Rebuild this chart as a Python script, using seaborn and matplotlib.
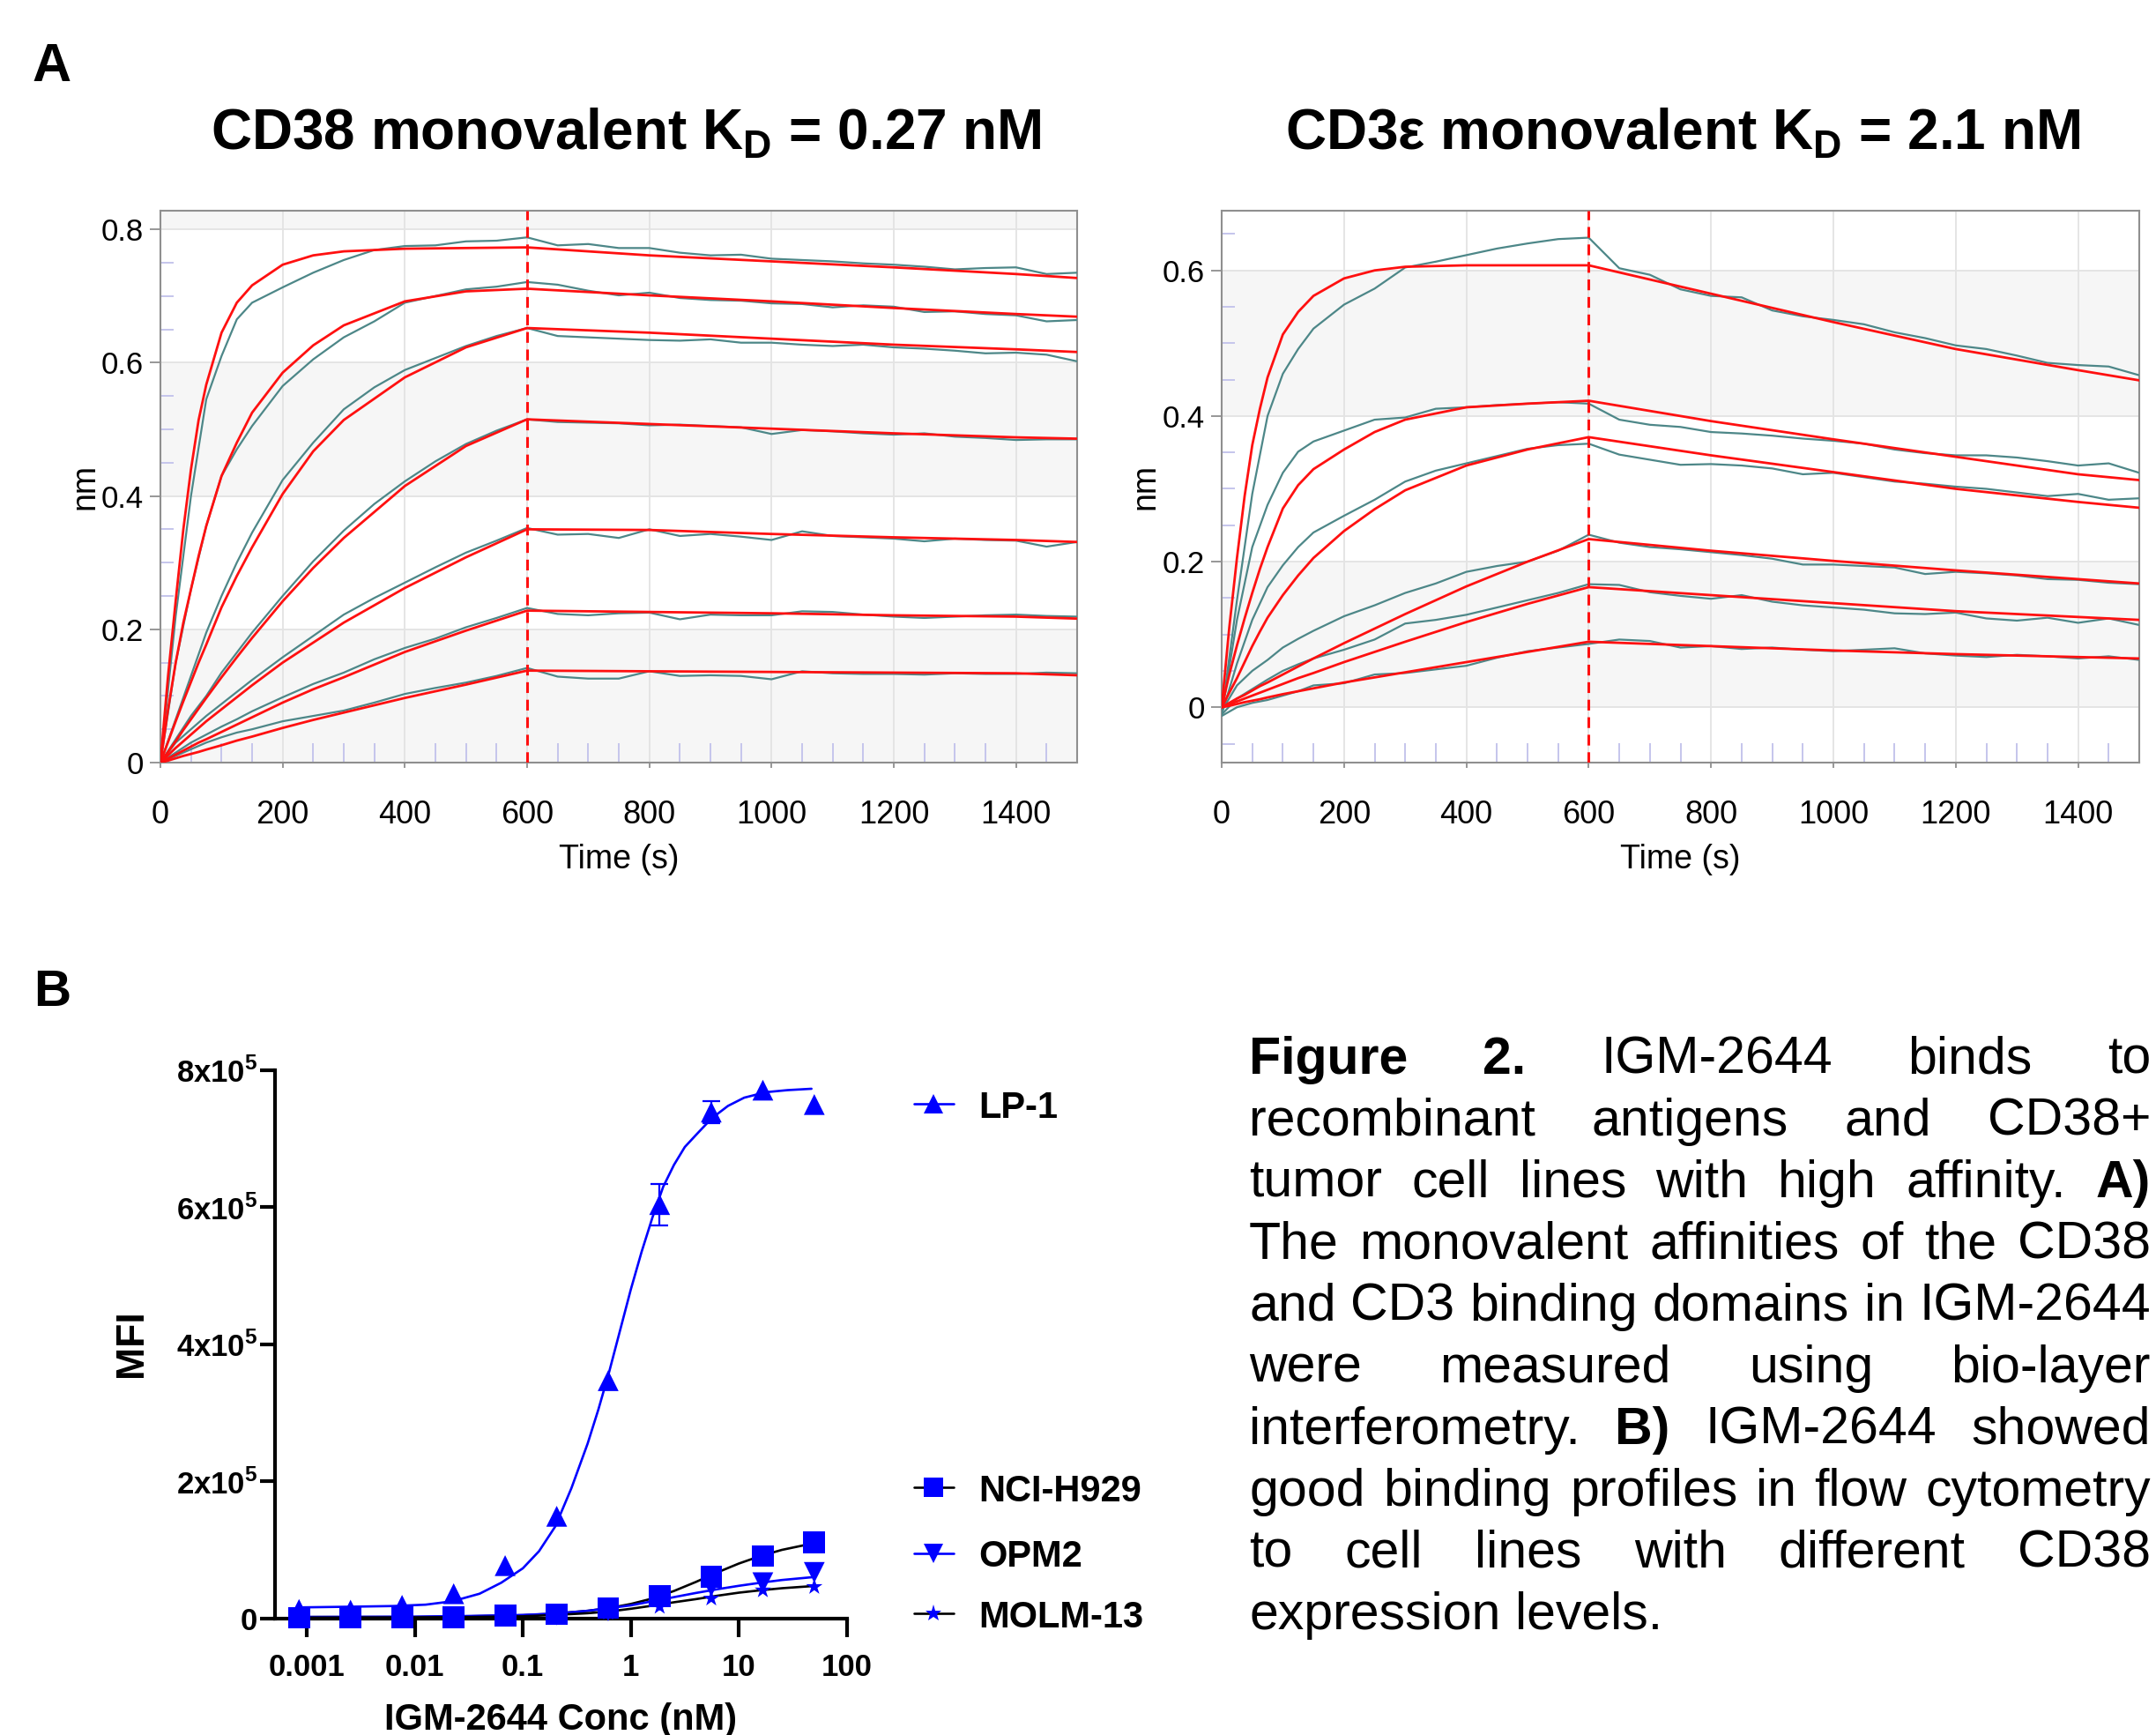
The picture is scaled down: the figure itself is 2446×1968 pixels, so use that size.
import numpy as np
import seaborn as sns
import matplotlib.pyplot as plt
import matplotlib.font_manager as fm
from matplotlib.ticker import MultipleLocator, NullLocator
from matplotlib.lines import Line2D

# ---------------- data ----------------
# BLI sensorgrams: time grids (s)
t_raw = [0, 25, 50, 75, 100, 125, 150, 200, 250, 300, 350, 400, 450, 500, 550, 600,
         650, 700, 750, 800, 850, 900, 950, 1000, 1050, 1100, 1150, 1200, 1250, 1300,
         1350, 1400, 1450, 1500]
t_fit = [0, 12.5, 25, 37.5, 50, 62.5, 75, 100, 125, 150, 200, 250, 300, 400, 500, 600,
         800, 1000, 1200, 1400, 1500]

# CD38 panel: measured traces (nm), highest to lowest concentration
cd38_raw = [
    [0, 0.22, 0.40, 0.545, 0.61, 0.665, 0.69, 0.713, 0.735, 0.754, 0.769, 0.775, 0.776, 0.782, 0.783, 0.788,
     0.776, 0.778, 0.772, 0.772, 0.765, 0.761, 0.762, 0.756, 0.754, 0.752, 0.749, 0.747, 0.744, 0.740, 0.742, 0.743, 0.733, 0.735],
    [0, 0.15, 0.26, 0.355, 0.43, 0.47, 0.505, 0.565, 0.605, 0.638, 0.662, 0.69, 0.70, 0.71, 0.714, 0.721,
     0.717, 0.708, 0.701, 0.705, 0.697, 0.694, 0.693, 0.689, 0.688, 0.683, 0.686, 0.684, 0.676, 0.677, 0.673, 0.671, 0.662, 0.664],
    [0, 0.065, 0.13, 0.195, 0.25, 0.30, 0.345, 0.424, 0.48, 0.53, 0.563, 0.589, 0.607, 0.625, 0.64, 0.652,
     0.64, 0.638, 0.636, 0.634, 0.633, 0.635, 0.630, 0.630, 0.627, 0.625, 0.627, 0.623, 0.621, 0.618, 0.614, 0.615, 0.612, 0.602],
    [0, 0.035, 0.07, 0.10, 0.135, 0.165, 0.195, 0.25, 0.302, 0.348, 0.388, 0.422, 0.452, 0.478, 0.498, 0.515,
     0.511, 0.51, 0.509, 0.506, 0.507, 0.505, 0.503, 0.493, 0.499, 0.497, 0.494, 0.492, 0.494, 0.489, 0.487, 0.484, 0.485, 0.485],
    [0, 0.03, 0.05, 0.07, 0.088, 0.106, 0.124, 0.158, 0.19, 0.222, 0.247, 0.27, 0.293, 0.315, 0.333, 0.352,
     0.342, 0.343, 0.337, 0.35, 0.34, 0.343, 0.339, 0.334, 0.347, 0.34, 0.338, 0.336, 0.332, 0.336, 0.334, 0.333, 0.324, 0.331],
    [0, 0.015, 0.03, 0.042, 0.054, 0.065, 0.077, 0.098, 0.118, 0.135, 0.155, 0.172, 0.186, 0.203, 0.217, 0.232,
     0.223, 0.221, 0.224, 0.225, 0.215, 0.222, 0.221, 0.221, 0.227, 0.226, 0.222, 0.219, 0.217, 0.219, 0.221, 0.222, 0.22, 0.219],
    [0, 0.01, 0.02, 0.03, 0.038, 0.045, 0.05, 0.062, 0.07, 0.078, 0.09, 0.103, 0.112, 0.12, 0.13, 0.142,
     0.129, 0.126, 0.126, 0.137, 0.13, 0.131, 0.13, 0.125, 0.137, 0.134, 0.133, 0.133, 0.132, 0.134, 0.133, 0.133, 0.135, 0.134],
]
# CD38 panel: 1:1 fits (nm)
cd38_fit = [
    [0, 0.13, 0.243, 0.35, 0.44, 0.514, 0.567, 0.645, 0.69, 0.716, 0.747, 0.761, 0.767, 0.771, 0.772, 0.773, 0.761, 0.752, 0.743, 0.733, 0.727],
    [0, 0.08, 0.15, 0.21, 0.26, 0.31, 0.355, 0.43, 0.48, 0.525, 0.585, 0.626, 0.656, 0.692, 0.707, 0.711, 0.701, 0.692, 0.682, 0.673, 0.669],
    [0, 0.031, 0.062, 0.092, 0.121, 0.15, 0.177, 0.233, 0.28, 0.323, 0.403, 0.467, 0.514, 0.578, 0.623, 0.652, 0.645, 0.636, 0.627, 0.620, 0.616],
    [0, 0.016, 0.032, 0.049, 0.065, 0.081, 0.097, 0.128, 0.158, 0.187, 0.242, 0.292, 0.337, 0.415, 0.475, 0.515, 0.508, 0.501, 0.494, 0.488, 0.486],
    [0, 0.011, 0.022, 0.032, 0.042, 0.052, 0.062, 0.08, 0.098, 0.116, 0.15, 0.18, 0.21, 0.262, 0.308, 0.35, 0.349, 0.343, 0.338, 0.334, 0.331],
    [0, 0.006, 0.012, 0.018, 0.024, 0.03, 0.035, 0.046, 0.057, 0.068, 0.09, 0.11, 0.128, 0.166, 0.198, 0.228, 0.226, 0.224, 0.221, 0.219, 0.216],
    [0, 0.003, 0.0065, 0.01, 0.013, 0.016, 0.0195, 0.026, 0.033, 0.039, 0.052, 0.064, 0.075, 0.097, 0.117, 0.138, 0.137, 0.136, 0.135, 0.134, 0.131],
]
# CD3e panel: measured traces (nm)
cd3_raw = [
    [-0.01, 0.147, 0.293, 0.40, 0.458, 0.492, 0.52, 0.553, 0.575, 0.604, 0.612, 0.621, 0.63, 0.637, 0.643, 0.645,
     0.603, 0.594, 0.574, 0.565, 0.563, 0.545, 0.537, 0.532, 0.526, 0.515, 0.507, 0.497, 0.492, 0.483, 0.473, 0.47, 0.468, 0.456],
    [-0.01, 0.12, 0.22, 0.278, 0.322, 0.351, 0.365, 0.38, 0.395, 0.398, 0.41, 0.412, 0.415, 0.417, 0.419, 0.417,
     0.395, 0.388, 0.385, 0.378, 0.376, 0.373, 0.369, 0.366, 0.362, 0.354, 0.349, 0.346, 0.346, 0.343, 0.338, 0.332, 0.335, 0.322],
    [-0.01, 0.06, 0.12, 0.165, 0.195, 0.22, 0.24, 0.263, 0.285, 0.31, 0.325, 0.335, 0.345, 0.355, 0.36, 0.362,
     0.347, 0.34, 0.333, 0.334, 0.332, 0.328, 0.32, 0.322, 0.316, 0.31, 0.307, 0.303, 0.3, 0.295, 0.29, 0.293, 0.285, 0.287],
    [-0.005, 0.03, 0.05, 0.065, 0.082, 0.094, 0.105, 0.125, 0.14, 0.157, 0.17, 0.186, 0.194, 0.2, 0.215, 0.237,
     0.226, 0.22, 0.217, 0.213, 0.209, 0.204, 0.196, 0.196, 0.194, 0.192, 0.183, 0.186, 0.184, 0.181, 0.176, 0.175, 0.171, 0.169],
    [-0.01, 0.012, 0.025, 0.038, 0.05, 0.059, 0.067, 0.079, 0.093, 0.115, 0.12, 0.127, 0.137, 0.147, 0.157, 0.169,
     0.168, 0.158, 0.153, 0.149, 0.154, 0.145, 0.14, 0.137, 0.134, 0.129, 0.128, 0.13, 0.122, 0.119, 0.123, 0.116, 0.122, 0.113],
    [-0.012, 0.0, 0.006, 0.01, 0.016, 0.022, 0.03, 0.033, 0.045, 0.047, 0.052, 0.057, 0.068, 0.077, 0.082, 0.087,
     0.093, 0.091, 0.082, 0.084, 0.08, 0.082, 0.079, 0.077, 0.079, 0.081, 0.074, 0.071, 0.069, 0.072, 0.07, 0.067, 0.07, 0.065],
]
# CD3e panel: 1:1 fits (nm)
cd3_fit = [
    [0, 0.11, 0.205, 0.29, 0.36, 0.41, 0.453, 0.512, 0.543, 0.565, 0.589, 0.6, 0.605, 0.607, 0.607, 0.607, 0.568, 0.529, 0.492, 0.463, 0.449],
    [0, 0.045, 0.085, 0.122, 0.157, 0.19, 0.22, 0.273, 0.305, 0.327, 0.354, 0.378, 0.395, 0.412, 0.417, 0.421, 0.393, 0.368, 0.344, 0.32, 0.312],
    [0, 0.02, 0.04, 0.062, 0.084, 0.104, 0.123, 0.154, 0.181, 0.205, 0.242, 0.272, 0.298, 0.332, 0.354, 0.371, 0.346, 0.323, 0.3, 0.282, 0.274],
    [0, 0.006, 0.012, 0.017, 0.023, 0.029, 0.034, 0.045, 0.056, 0.067, 0.088, 0.108, 0.128, 0.166, 0.2, 0.231, 0.215, 0.201, 0.188, 0.176, 0.17],
    [0, 0.004, 0.008, 0.012, 0.016, 0.02, 0.024, 0.032, 0.04, 0.047, 0.062, 0.076, 0.09, 0.117, 0.142, 0.165, 0.154, 0.143, 0.132, 0.124, 0.12],
    [0, 0.002, 0.0045, 0.007, 0.009, 0.011, 0.0135, 0.018, 0.022, 0.026, 0.034, 0.041, 0.048, 0.062, 0.076, 0.09, 0.084, 0.078, 0.073, 0.069, 0.067],
]

# Flow binding: concentrations (nM) and MFI
conc = [0.000847, 0.00254, 0.00762, 0.0229, 0.0686, 0.206, 0.617, 1.85, 5.56, 16.7, 50]
lp1 = [1.3e4, 1.2e4, 1.9e4, 3.6e4, 7.7e4, 1.49e5, 3.47e5, 6.04e5, 7.39e5, 7.71e5, 7.50e5]
lp1_err = [0, 0, 0, 0, 0, 0, 0, 3.0e4, 1.6e4, 0, 0]
nci_h929 = [1e3, 1e3, 1.5e3, 2e3, 4e3, 6e3, 1.5e4, 3.2e4, 6.1e4, 9.1e4, 1.11e5]
opm2 = [1e3, 1e3, 1e3, 1.5e3, 3e3, 5e3, 1.1e4, 2.6e4, 4.7e4, 5.2e4, 6.7e4]
molm13 = [5e2, 5e2, 1e3, 1e3, 2e3, 4e3, 8e3, 1.7e4, 2.9e4, 4.1e4, 4.6e4]

# fitted curves (log10 nM -> MFI)
lp1_fit_logc = [-3.065, -2.6, -2.2, -1.9, -1.65, -1.4, -1.2, -1.0, -0.85, -0.7, -0.55, -0.4, -0.3, -0.2,
                -0.1, 0.0, 0.1, 0.2, 0.3, 0.4, 0.5, 0.6, 0.75, 0.9, 1.05, 1.25, 1.45, 1.673]
lp1_fit = [1.6e4, 1.7e4, 1.8e4, 2.0e4, 2.5e4, 3.6e4, 5.2e4, 7.3e4, 9.8e4, 1.34e5, 1.9e5, 2.55e5, 3.05e5, 3.6e5,
           4.2e5, 4.8e5, 5.35e5, 5.85e5, 6.3e5, 6.62e5, 6.88e5, 7.05e5, 7.3e5, 7.48e5, 7.6e5, 7.68e5, 7.71e5, 7.73e5]
low_fit_logc = [-3.065, -2.0, -1.5, -1.0, -0.7, -0.4, -0.2, 0.0, 0.2, 0.4, 0.6, 0.8, 1.0, 1.2, 1.4, 1.673]
nci_fit = [2e3, 2e3, 3e3, 4.5e3, 7e3, 1.1e4, 1.5e4, 2.1e4, 2.9e4, 4.0e4, 5.3e4, 6.7e4, 8.0e4, 9.1e4, 1.0e5, 1.09e5]
opm2_fit = [2e3, 2.5e3, 3.5e3, 5e3, 7e3, 1.1e4, 1.5e4, 1.9e4, 2.5e4, 3.1e4, 3.7e4, 4.25e4, 4.75e4, 5.2e4, 5.6e4, 6.0e4]
molm13_fit = [1e3, 1.5e3, 2e3, 3e3, 5e3, 7.5e3, 1.0e4, 1.4e4, 1.85e4, 2.35e4, 2.8e4, 3.3e4, 3.75e4, 4.1e4, 4.4e4, 4.7e4]

caption = [
    "**Figure** **2.** IGM-2644 binds to",
    "recombinant antigens and CD38+",
    "tumor cell lines with high affinity. **A)**",
    "The monovalent affinities of the CD38",
    "and CD3 binding domains in IGM-2644",
    "were measured using bio-layer",
    "interferometry. **B)** IGM-2644 showed",
    "good binding profiles in flow cytometry",
    "to cell lines with different CD38",
    "expression levels.",
]

# ---------------- style ----------------
sns.set_theme(style='white')
plt.rcParams['font.family'] = ['Liberation Sans', 'DejaVu Sans']
plt.rcParams['text.color'] = 'black'
plt.rcParams['mathtext.fontset'] = 'custom'
plt.rcParams['mathtext.rm'] = 'Liberation Sans'
plt.rcParams['mathtext.bf'] = 'Liberation Sans:bold'
names = {f.name for f in fm.fontManager.ttflist}
NARROW = 'Liberation Sans Narrow' if 'Liberation Sans Narrow' in names else 'Liberation Sans'

W, H = 2446, 1968
fig = plt.figure(figsize=(W / 100, H / 100), dpi=100)
fig.patch.set_facecolor('white')


def fx(px):
    return px / W


def fy(py):
    return 1 - py / H


TEAL = '#4d8788'
LAV = '#c5c5ec'


def bli_panel(x0, x1, ylim, raw, fit, yticks):
    ax = fig.add_axes([fx(x0), fy(865), fx(x1 - x0), (865 - 239) / H])
    ax.set_xlim(0, 1500)
    ax.set_ylim(*ylim)
    for lo, hi in [(0, 0.2), (0.4, 0.6), (0.8, 1.0)]:
        ax.axhspan(lo, hi, color='#f6f6f6', lw=0, zorder=0)
    ax.set_axisbelow(True)
    ax.xaxis.set_major_locator(MultipleLocator(200))
    ax.xaxis.set_minor_locator(MultipleLocator(50))
    ax.set_yticks(yticks, labels=[('%g' % v) for v in yticks])
    ax.yaxis.set_minor_locator(MultipleLocator(0.05))
    ax.grid(True, which='major', color='#e3e3e3', lw=1.3)
    for vals in raw:
        sns.lineplot(x=t_raw, y=vals, ax=ax, color=TEAL, lw=1.6, estimator=None, zorder=3)
    for vals in fit:
        sns.lineplot(x=t_fit, y=vals, ax=ax, color='#ff1010', lw=2.0, estimator=None, zorder=4)
    ax.axvline(600, color='#ff1010', lw=2.2, ls=(0, (4, 2.5)), zorder=5)
    for s in ax.spines.values():
        s.set_color('#8f8f8f')
        s.set_linewidth(1.5)
    ax.tick_params(axis='y', which='major', direction='out', length=8.5, width=1.3, color='#8f8f8f',
                   labelsize=25, pad=5, labelcolor='black', labelfontfamily=NARROW, left=True)
    ax.tick_params(axis='x', which='major', direction='out', length=4, width=1.3, color='#8f8f8f',
                   labelsize=26, pad=26, labelcolor='black', labelfontfamily=NARROW, bottom=True)
    ax.tick_params(axis='y', which='minor', direction='in', length=11, width=1.4, color=LAV, left=True)
    ax.tick_params(axis='x', which='minor', direction='in', length=16, width=1.4, color=LAV, bottom=True)
    ax.set_xlabel('')
    ax.set_ylabel('')
    fig.text(fx((x0 + x1) / 2), fy(985), 'Time (s)', ha='center', va='baseline', fontsize=27,
             family=NARROW)
    return ax


axL = bli_panel(182, 1222, (0, 0.828), cd38_raw, cd38_fit, [0, 0.2, 0.4, 0.6, 0.8])
axR = bli_panel(1386, 2427, (-0.076, 0.682), cd3_raw, cd3_fit, [0, 0.2, 0.4, 0.6])
fig.text(fx(96), fy(552), 'nm', rotation=90, ha='center', va='center', fontsize=27, family=NARROW)
fig.text(fx(1299), fy(552), 'nm', rotation=90, ha='center', va='center', fontsize=27, family=NARROW)

fig.text(fx(710), fy(169), r'CD38 monovalent K$_\mathbf{D}$ = 0.27 nM', ha='center', va='baseline',
         fontsize=46, fontweight='bold')
fig.text(fx(1909), fy(169), r'CD3ε monovalent K$_\mathbf{D}$ = 2.1 nM', ha='center', va='baseline',
         fontsize=46, fontweight='bold')
fig.text(fx(36), fy(92), 'A', ha='left', va='baseline', fontsize=44, fontweight='bold')
fig.text(fx(38), fy(1141), 'B', ha='left', va='baseline', fontsize=42, fontweight='bold')

# ---------------- panel B ----------------
axB = fig.add_axes([fx(311.7), fy(1835.7), fx(960.7 - 311.7), (1835.7 - 1214) / H])
axB.set_xscale('log')
axB.set_xlim(10 ** -3.297, 100)
axB.set_ylim(0, 8e5)

sns.lineplot(x=10 ** np.array(lp1_fit_logc), y=lp1_fit, ax=axB, color='#0000ff', lw=1.9, estimator=None)
sns.lineplot(x=10 ** np.array(low_fit_logc), y=nci_fit, ax=axB, color='black', lw=1.9, estimator=None)
sns.lineplot(x=10 ** np.array(low_fit_logc), y=opm2_fit, ax=axB, color='#0000ff', lw=1.9, estimator=None)
sns.lineplot(x=10 ** np.array(low_fit_logc), y=molm13_fit, ax=axB, color='black', lw=1.9, estimator=None)

err_idx = [i for i, e in enumerate(lp1_err) if e > 0]
axB.errorbar([conc[i] for i in err_idx], [lp1[i] for i in err_idx], yerr=[lp1_err[i] for i in err_idx],
             fmt='none', ecolor='#0000ff', elinewidth=1.6, capsize=7.5, capthick=1.6, zorder=4)

series = [(molm13, '*', 200), (opm2, 'v', 290), (lp1, '^', 290), (nci_h929, 's', 320)]
for vals, mk, sz in series:
    sns.scatterplot(x=conc, y=vals, ax=axB, marker=mk, s=sz, color='#0000ff', edgecolor='none',
                    linewidth=0, zorder=6, clip_on=False)

for side in ['top', 'right']:
    axB.spines[side].set_visible(False)
for side in ['left', 'bottom']:
    axB.spines[side].set_color('black')
    axB.spines[side].set_linewidth(3.0)
axB.set_xticks([1e-3, 1e-2, 1e-1, 1, 10, 100], labels=['0.001', '0.01', '0.1', '1', '10', '100'],
               fontweight='bold')
axB.xaxis.set_minor_locator(NullLocator())
axB.set_yticks([0, 2e5, 4e5, 6e5, 8e5],
               labels=['0'] + [r'%dx10$^{\mathregular{5}}$' % k for k in (2, 4, 6, 8)], fontweight='bold')
axB.tick_params(axis='x', which='major', direction='out', length=15, width=3.0, color='black',
                labelsize=25, pad=13, bottom=True, labelcolor='black')
axB.tick_params(axis='y', which='major', direction='out', length=12, width=3.0, color='black',
                labelsize=25, pad=2, left=True, labelcolor='black')
axB.set_xlabel('')
axB.set_ylabel('')
fig.text(fx(636), fy(1961.7), 'IGM-2644 Conc (nM)', ha='center', va='baseline', fontsize=30,
         fontweight='bold')
fig.text(fx(149), fy(1524), 'MFI', rotation=90, ha='center', va='center', fontsize=32, fontweight='bold')

# legend (split like the original)
legend_rows = [('LP-1', '^', '#0000ff', 1252, 1268), ('NCI-H929', 's', 'black', 1687, 1703),
               ('OPM2', 'v', '#0000ff', 1762, 1777), ('MOLM-13', '*', 'black', 1830, 1846)]
for label, mk, lc, yc, yb in legend_rows:
    fig.add_artist(Line2D([fx(1037), fx(1082)], [fy(yc), fy(yc)], transform=fig.transFigure,
                          color=lc, lw=1.9))
    fig.add_artist(Line2D([fx(1059)], [fy(yc)], transform=fig.transFigure, marker=mk,
                          markersize=14 if mk == '*' else 16, color='#0000ff', markeredgewidth=0, lw=0))
    fig.text(fx(1110), fy(yb), label, ha='left', va='baseline', fontsize=30, fontweight='bold')

# ---------------- caption, justified ----------------
CAP_FS = 42.5
renderer = fig.canvas.get_renderer()
cx0, cx1 = 1417, 2440
for i, line in enumerate(caption):
    base = 1217.6 + 70 * i
    items = []
    for w in line.split():
        bold = w.startswith('**')
        w = w.strip('*')
        t = fig.text(0, fy(base), w, ha='left', va='baseline', fontsize=CAP_FS,
                     fontweight='bold' if bold else 'normal')
        items.append((t, t.get_window_extent(renderer).width))
    total = sum(wd for _, wd in items)
    if i == len(caption) - 1:
        gap = 0.278 * CAP_FS * 100 / 72
    else:
        gap = (cx1 - cx0 - total) / (len(items) - 1)
    x = cx0
    for t, wd in items:
        t.set_x(fx(x))
        x += wd + gap

fig.savefig('out.png', dpi=100, facecolor='white')
